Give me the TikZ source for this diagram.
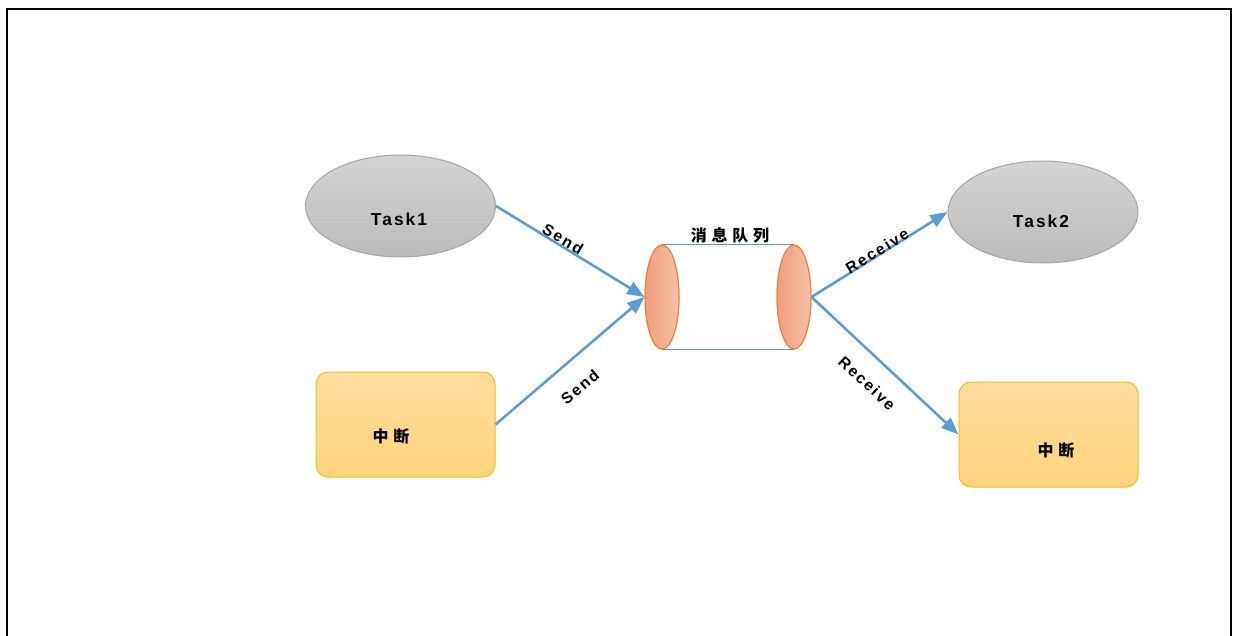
\documentclass[tikz,border=0pt]{standalone}
\usepackage{fontspec}
\setmainfont{Liberation Sans}
\newfontfamily\labfont[LetterSpace=12]{Liberation Sans}
\newfontfamily\cjk[LetterSpace=30]{Noto Sans CJK SC}
\usetikzlibrary{shapes.geometric,arrows.meta}
\definecolor{flow}{HTML}{5B9BD5}
\definecolor{taskedge}{HTML}{A6A6A6}
\definecolor{tasktop}{HTML}{D4D4D4}
\definecolor{taskbot}{HTML}{BBBBBB}
\definecolor{irqedge}{HTML}{F2BD22}
\definecolor{irqtop}{HTML}{FFDD9E}
\definecolor{irqbot}{HTML}{FDD47D}
\definecolor{qedge}{HTML}{ED7D31}
\definecolor{qleft}{HTML}{F19D7C}
\definecolor{qright}{HTML}{F7C0A6}
\tikzset{
  task/.style={ellipse, draw=taskedge, line width=0.75pt, top color=tasktop, bottom color=taskbot,
    minimum width=142.5pt, minimum height=76.5pt, inner sep=0pt},
  tasklabel/.style={inner sep=0pt, font=\labfont\bfseries\fontsize{13}{15}\selectfont},
  irq/.style={rectangle, rounded corners=9pt, draw=irqedge, line width=0.75pt, top color=irqtop, bottom color=irqbot,
    minimum width=134.25pt, minimum height=78.75pt, inner sep=0pt},
  cjklabel/.style={inner sep=0pt, font=\cjk\bfseries\fontsize{12}{14}\selectfont},
  qend/.style={ellipse, draw=qedge, line width=0.75pt, left color=qleft, right color=qright,
    minimum width=25.5pt, minimum height=78pt, inner sep=0pt},
  qside/.style={draw=flow, line width=0.6pt},
  flowline/.style={draw=flow, line width=1.9pt, -{Triangle[length=13pt,width=10pt]}},
  flowlabel/.style={inner sep=0pt, font=\labfont\bfseries\fontsize{11.8}{13}\selectfont},
  frame/.style={draw=black, line width=1.5pt}
}
\begin{document}
\begin{tikzpicture}[x=0.75pt,y=-0.75pt]
\useasboundingbox (0,0) rectangle (1237,635);
% outer frame
\draw[frame] (7,640) -- (7,9) -- (1231,9) -- (1231,640);

% senders and receivers
\node[task] (t1) at (400.5,206) {};
\node[tasklabel] (t1t) at (399,219) {Task1};
\node[task] (t2) at (1043,212) {};
\node[tasklabel] (t2t) at (1041,221) {Task2};
\node[irq] (i1) at (405.5,424.5) {};
\node[cjklabel] (i1t) at (391,436) {中断};
\node[irq] (i2) at (1048.5,434.5) {};
\node[cjklabel] (i2t) at (1056,450) {中断};

% message queue drawn as a cylinder
\node[qend] (ql) at (662,297) {};
\node[qend] (qr) at (794,297) {};
\draw[qside] (ql.north) -- (qr.north);
\draw[qside] (ql.south) -- (qr.south);
\node[qend] at (ql) {};
\node[qend] at (qr) {};
\node[cjklabel] (qt) at (730,235) {消息队列};

% flows
\draw[flowline] (t1.east) -- (ql.west);
\draw[flowline] (i1.east) -- (ql.west);
\draw[flowline] (qr.east) -- (t2.west);
\draw[flowline] (qr.east) -- (i2.west);

\node[flowlabel, rotate=-30.4] (s1) at (563,239) {Send};
\node[flowlabel, rotate=40] (s2) at (580,387) {Send};
\node[flowlabel, rotate=31.5] (r1) at (877,251) {Receive};
\node[flowlabel, rotate=-42.8] (r2) at (867,383) {Receive};
\end{tikzpicture}
\end{document}
